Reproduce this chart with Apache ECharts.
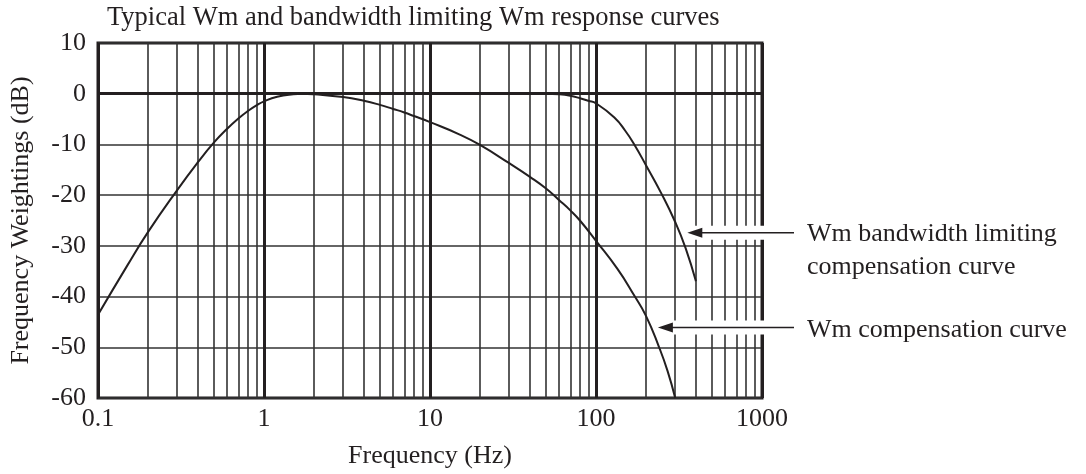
<!DOCTYPE html>
<html><head><meta charset="utf-8">
<script src="https://cdn.jsdelivr.net/npm/echarts@6/dist/echarts.min.js"></script>
<style>html,body{margin:0;padding:0;background:#fff}#c{width:1086px;height:474px}</style>
</head><body><div id="c"></div>
<script>
// ---- data ----
const titleText = 'Typical Wm and bandwidth limiting Wm response curves';
const xAxisName = 'Frequency (Hz)';
const yAxisName = 'Frequency Weightings (dB)';
const xTickValues = [0.1, 1, 10, 100, 1000];
const xTickLabels = ['0.1', '1', '10', '100', '1000'];
const yMin = -60, yMax = 10, yStep = 10;

// Wm compensation curve
const wmFreq = [0.1, 0.15, 0.2, 0.3, 0.4, 0.5, 0.6, 0.7, 0.8, 0.9, 1.0, 1.2, 1.5, 1.7, 2, 3, 4, 5, 6, 7, 8, 10, 15, 20, 30, 40, 50, 60, 70, 80, 100, 135, 170, 200, 240, 270, 300];
const wmDb   = [-43.6, -33.9, -27.3, -19.0, -13.5, -9.6, -6.9, -4.9, -3.4, -2.3, -1.5, -0.6, -0.1, 0, -0.1, -0.66, -1.4, -2.2, -3.0, -3.7, -4.4, -5.6, -8.0, -10.1, -13.7, -16.4, -18.7, -21.0, -23.0, -25.0, -29.0, -34.6, -39.8, -43.8, -50, -54.7, -60];

// Wm bandwidth limiting compensation curve
const bandFreq = [50, 60, 70, 81, 90, 100, 129, 150, 170, 200, 247, 300, 347, 400];
const bandDb   = [0, -0.1, -0.4, -0.95, -1.4, -1.9, -4.7, -7.3, -10, -14.1, -19.6, -25.3, -30.5, -37];

// minor grid frequencies
const minorFreqs = [0.2,0.3,0.4,0.5,0.6,0.7,0.8,0.9, 2,3,4,5,6,7,8,9, 20,30,40,50,60,70,80,90, 200,300,400,500,600,700,800,900];

// annotations
const labelBand = ['Wm bandwidth limiting', 'compensation curve'];
const labelWm = ['Wm compensation curve'];
const arrowBandTip = [355, -27.4];
const arrowWmTip = [236, -46.1];

// ---- chart ----
const FONT = '"Liberation Serif", "Times New Roman", serif';
const INK = '#231f20';
const chart = echarts.init(document.getElementById('c'), null, {renderer: 'canvas'});

function pairs(xs, ys) { return xs.map((x, i) => [x, ys[i]]); }

const option = {
  backgroundColor: '#fff',
  animation: false,
  grid: {left: 96, right: 324, top: 43, bottom: 76, show: true, borderColor: INK, borderWidth: 3, backgroundColor: 'transparent'},
  xAxis: {
    type: 'log', logBase: 10, min: 0.1, max: 1000,
    name: xAxisName, nameLocation: 'middle', nameGap: 45,
    nameTextStyle: {fontFamily: FONT, fontSize: 26, color: INK},
    axisLine: {show: false}, axisTick: {show: false},
    axisLabel: {fontFamily: FONT, fontSize: 26, color: INK, margin: 8,
      formatter: v => { let best = 0; xTickValues.forEach((t, i) => { if (Math.abs(Math.log10(t) - Math.log10(v)) < Math.abs(Math.log10(xTickValues[best]) - Math.log10(v))) best = i; }); return xTickLabels[best]; }},
    splitLine: {show: true, lineStyle: {color: INK, width: 3}},
    minorTick: {show: false}, minorSplitLine: {show: false}
  },
  yAxis: {
    type: 'value', min: yMin, max: yMax, interval: yStep,
    name: yAxisName, nameLocation: 'middle', nameGap: 64, nameRotate: 90,
    nameTextStyle: {fontFamily: FONT, fontSize: 26, color: INK},
    axisLine: {show: false}, axisTick: {show: false},
    axisLabel: {fontFamily: FONT, fontSize: 26, color: INK, margin: 12},
    splitLine: {show: true, lineStyle: {color: '#333', width: 1.7}}
  },
  series: [
    {
      type: 'line', data: [], silent: true, z: 1,
      markLine: {
        silent: true, symbol: 'none', label: {show: false}, animation: false,
        lineStyle: {color: '#333', width: 1.6, type: 'solid'},
        data: minorFreqs.map(f => ({xAxis: f})).concat([{yAxis: 0, lineStyle: {color: INK, width: 3, type: 'solid'}}])
      }
    },
    {
      name: 'Wm compensation curve', type: 'line', smooth: 0.5, showSymbol: false, z: 5,
      lineStyle: {color: INK, width: 2}, data: pairs(wmFreq, wmDb)
    },
    {
      name: 'Wm bandwidth limiting compensation curve', type: 'line', smooth: 0.5, showSymbol: false, z: 5,
      lineStyle: {color: INK, width: 2}, data: pairs(bandFreq, bandDb)
    }
  ]
};
chart.setOption(option);

const pB = chart.convertToPixel({gridIndex: 0}, arrowBandTip);
const pW = chart.convertToPixel({gridIndex: 0}, arrowWmTip);
const tailX = 794;
const gridRight = 1086 - 324;
function arrow(p, id) {
  const x = p[0], y = p[1];
  return [
    {type: 'rect', id: id + 'halo', z: 100, shape: {x: x + 4, y: y - 7, width: gridRight + 3 - (x + 4), height: 14}, style: {fill: '#fff'}, silent: true},
    {type: 'line', id: id + 'line', z: 101, shape: {x1: x + 12, y1: y, x2: tailX, y2: y}, style: {stroke: INK, lineWidth: 1.5}, silent: true},
    {type: 'polygon', id: id + 'head', z: 101, shape: {points: [[x, y], [x + 15, y - 5], [x + 15, y + 5]]}, style: {fill: INK}, silent: true}
  ];
}
const textStyle = {fontFamily: FONT, fontSize: 26, fill: INK, verticalAlign: 'middle', align: 'left'};
chart.setOption({
  graphic: [
    {type: 'text', z: 101, x: 107, y: 18.5, style: Object.assign({text: titleText}, textStyle, {fontSize: 26.5})},
    {type: 'text', z: 101, x: 807, y: 234.5, style: Object.assign({text: labelBand[0]}, textStyle)},
    {type: 'text', z: 101, x: 807, y: 267, style: Object.assign({text: labelBand[1]}, textStyle)},
    {type: 'text', z: 101, x: 807, y: 330.5, style: Object.assign({text: labelWm[0]}, textStyle)}
  ].concat(arrow(pB, 'b'), arrow(pW, 'w'))
});
</script></body></html>
